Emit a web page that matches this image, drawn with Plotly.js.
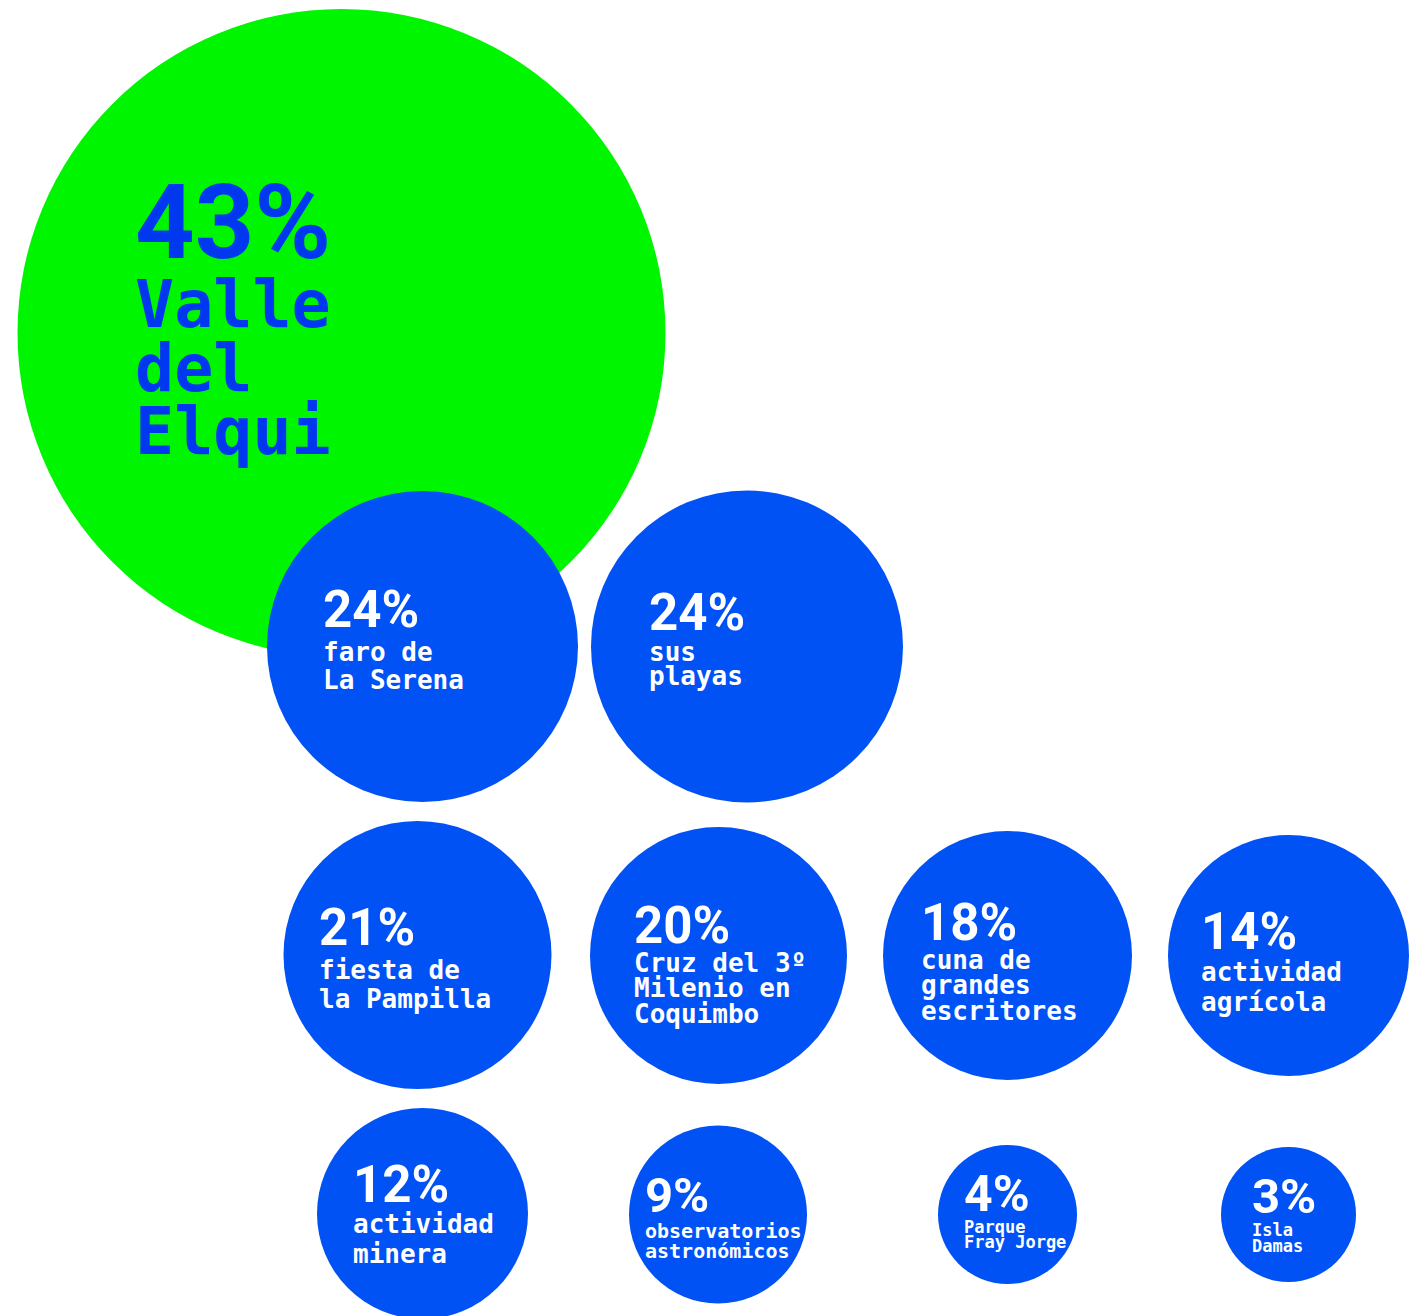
<!DOCTYPE html>
<html>
<head>
<meta charset="utf-8">
<script src="https://cdn.plot.ly/plotly-3.0.1.min.js"></script>
<style>
  html, body { margin: 0; padding: 0; background: #ffffff; overflow: hidden; }
  #chart { width: 1415px; height: 1316px; }
</style>
</head>
<body>
<div id="chart"></div>
<script>
// ---- data ----
const categories = [
  "Valle del Elqui", "faro de La Serena", "sus playas", "fiesta de la Pampilla",
  "Cruz del 3º Milenio en Coquimbo", "cuna de grandes escritores", "actividad agrícola",
  "actividad minera", "observatorios astronómicos", "Parque Fray Jorge", "Isla Damas"
];
const values = [43, 24, 24, 21, 20, 18, 14, 12, 9, 4, 3];
const labelLines = [
  ["Valle", "del", "Elqui"],
  ["faro de", "La Serena"],
  ["sus", "playas"],
  ["fiesta de", "la Pampilla"],
  ["Cruz del 3º", "Milenio en", "Coquimbo"],
  ["cuna de", "grandes", "escritores"],
  ["actividad", "agrícola"],
  ["actividad", "minera"],
  ["observatorios", "astronómicos"],
  ["Parque", "Fray Jorge"],
  ["Isla", "Damas"]
];

// ---- layout / placement (pixels, presentation only) ----
const placement = [
  {cx: 341.5, cy: 333, d: 648, tx: 135, pb: 258, ps: 104, ls: 65, lb: [326, 390, 453]},
  {cx: 422.5, cy: 646.5, d: 311, tx: 323, pb: 627, ps: 51, ls: 26, lb: [661, 689]},
  {cx: 747, cy: 646.5, d: 312, tx: 649, pb: 630, ps: 51, ls: 26, lb: [661, 685]},
  {cx: 417.5, cy: 955, d: 268, tx: 319, pb: 945, ps: 51, ls: 26, lb: [979, 1008]},
  {cx: 718.5, cy: 955.5, d: 257, tx: 634, pb: 943, ps: 51, ls: 26, lb: [972, 997, 1023]},
  {cx: 1007.5, cy: 955.5, d: 249, tx: 921, pb: 940, ps: 51, ls: 26, lb: [969, 994, 1020]},
  {cx: 1288.5, cy: 955.5, d: 241, tx: 1201, pb: 949, ps: 51, ls: 26, lb: [981, 1011]},
  {cx: 422.5, cy: 1213.5, d: 211, tx: 353, pb: 1202, ps: 51, ls: 26, lb: [1233, 1263]},
  {cx: 718, cy: 1214.5, d: 178, tx: 645, pb: 1212, ps: 49, ls: 20, lb: [1238, 1258]},
  {cx: 1007.5, cy: 1214.5, d: 139, tx: 964, pb: 1211, ps: 50, ls: 17, lb: [1233, 1248]},
  {cx: 1288.5, cy: 1214.5, d: 135, tx: 1252, pb: 1213, ps: 49, ls: 17, lb: [1236, 1252]}
];

const GREEN = "#00F500";
const BLUE = "#0052F5";
const TEXT_ON_GREEN = "#0038F0";
const PCT_FONT = "Roboto, 'Noto Sans', sans-serif";
const LBL_FONT = "'DejaVu Sans Mono', 'Liberation Mono', monospace";

const colors = values.map((v, i) => i === 0 ? GREEN : BLUE);
const textColors = values.map((v, i) => i === 0 ? TEXT_ON_GREEN : "#ffffff");

const trace = {
  type: "scatter",
  mode: "markers",
  x: placement.map(p => p.cx),
  y: placement.map(p => p.cy),
  text: categories,
  customdata: values,
  marker: {
    size: placement.map(p => p.d),
    sizemode: "diameter",
    color: colors,
    opacity: 1,
    line: {width: 0}
  },
  hoverinfo: "skip",
  cliponaxis: true
};

const K_PCT = 0.34, K_LBL = 0.33;
const annotations = [];
values.forEach((v, i) => {
  const p = placement[i];
  annotations.push({
    x: p.tx, y: p.pb - K_PCT * p.ps, xref: "x", yref: "y",
    xanchor: "left", yanchor: "middle", showarrow: false,
    borderpad: 0, borderwidth: 0,
    text: "<b>" + v + "%</b>",
    font: {family: PCT_FONT, size: p.ps, color: textColors[i]}
  });
  labelLines[i].forEach((line, j) => {
    annotations.push({
      x: p.tx, y: p.lb[j] - K_LBL * p.ls, xref: "x", yref: "y",
      xanchor: "left", yanchor: "middle", showarrow: false,
      borderpad: 0, borderwidth: 0,
      text: "<b>" + line + "</b>",
      font: {family: LBL_FONT, size: p.ls, color: textColors[i]}
    });
  });
});

const layout = {
  width: 1415, height: 1316,
  margin: {l: 0, r: 0, t: 0, b: 0, pad: 0},
  paper_bgcolor: "#ffffff",
  plot_bgcolor: "#ffffff",
  showlegend: false,
  xaxis: {range: [0, 1415], visible: false, fixedrange: true},
  yaxis: {range: [1316, 0], visible: false, fixedrange: true},
  annotations: annotations,
  hovermode: false
};

Plotly.newPlot("chart", [trace], layout, {displayModeBar: false, staticPlot: true});
</script>
</body>
</html>
